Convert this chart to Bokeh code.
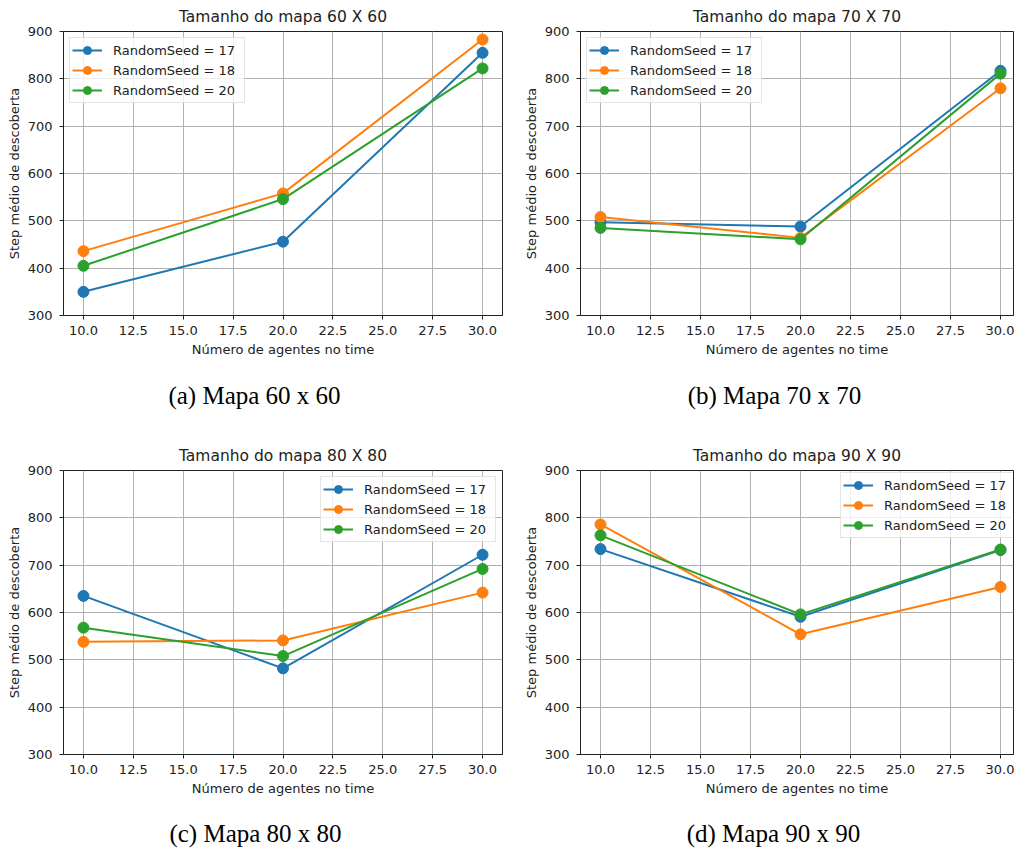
from bokeh.plotting import figure
from bokeh.layouts import column, row
from bokeh.models import FixedTicker, PrintfTickFormatter, Label
from bokeh.embed import file_html
from bokeh.resources import INLINE

# ---------------- data ----------------
agents = [10, 20, 30]
seed_labels = ["RandomSeed = 17", "RandomSeed = 18", "RandomSeed = 20"]
seed_colors = ["#1f77b4", "#ff7f0e", "#2ca02c"]

map60_seed17 = [350, 456, 855]
map60_seed18 = [436, 558, 883]
map60_seed20 = [405, 546, 822]

map70_seed17 = [497, 488, 817]
map70_seed18 = [508, 464, 780]
map70_seed20 = [485, 461, 811]

map80_seed17 = [635, 482, 722]
map80_seed18 = [538, 541, 642]
map80_seed20 = [568, 508, 692]

map90_seed17 = [734, 591, 732]
map90_seed18 = [786, 554, 654]
map90_seed20 = [763, 596, 733]

panel_titles = ["Tamanho do mapa 60 X 60", "Tamanho do mapa 70 X 70",
                "Tamanho do mapa 80 X 80", "Tamanho do mapa 90 X 90"]
panel_captions = ["(a) Mapa 60 x 60", "(b) Mapa 70 x 70",
                  "(c) Mapa 80 x 80", "(d) Mapa 90 x 90"]
x_ticks = [10.0, 12.5, 15.0, 17.5, 20.0, 22.5, 25.0, 27.5, 30.0]
y_ticks = [300, 400, 500, 600, 700, 800, 900]
x_label = "Número de agentes no time"
y_label = "Step médio de descoberta"

TXT = "#222222"
FONT = "DejaVu Sans"


def make_panel(title, series, width, height, x_end, b_left, b_right,
               b_bottom, legend_loc, legend_margin, title_offset):
    p = figure(width=width, height=height, x_range=(9, x_end), y_range=(300, 900),
               output_backend="svg", toolbar_location=None, title=title,
               min_border_left=b_left, min_border_right=b_right,
               min_border_top=30, min_border_bottom=b_bottom)
    p.background_fill_color = "white"
    p.border_fill_color = "white"
    p.outline_line_color = TXT
    p.outline_line_width = 1

    p.title.align = "center"
    p.title.text_font = FONT
    p.title.text_font_size = "15.5px"
    p.title.text_font_style = "normal"
    p.title.text_color = TXT
    p.title.standoff = 11
    p.title.offset = title_offset

    p.xaxis.ticker = FixedTicker(ticks=x_ticks)
    p.xaxis.formatter = PrintfTickFormatter(format="%.1f")
    p.yaxis.ticker = FixedTicker(ticks=y_ticks)
    for ax in (p.xaxis, p.yaxis):
        ax.major_label_text_font = FONT
        ax.major_label_text_font_size = "13px"
        ax.major_label_text_color = TXT
        ax.axis_label_text_font = FONT
        ax.axis_label_text_font_size = "13px"
        ax.axis_label_text_font_style = "normal"
        ax.axis_label_text_color = TXT
        ax.axis_line_color = TXT
        ax.major_tick_line_color = TXT
        ax.major_tick_out = 4
        ax.major_tick_in = 0
        ax.minor_tick_line_color = None
    p.xaxis.major_label_standoff = 6
    p.xaxis.axis_label_standoff = 4
    p.yaxis.major_label_standoff = 7
    p.yaxis.axis_label_standoff = 3
    p.xaxis.axis_label = x_label
    p.yaxis.axis_label = y_label

    p.grid.grid_line_color = "#b0b0b0"
    p.grid.grid_line_width = 1

    for vals, lbl, col in zip(series, seed_labels, seed_colors):
        p.line(agents, vals, line_color=col, line_width=2, legend_label=lbl)
        p.scatter(agents, vals, size=11, fill_color=col, line_color=col,
                  legend_label=lbl)

    lg = p.legend[0]
    lg.location = legend_loc
    lg.margin = legend_margin
    lg.padding = 2
    lg.spacing = 0
    lg.glyph_width = 30
    lg.glyph_height = 20
    lg.label_standoff = 11
    lg.label_width = 129
    lg.label_text_font = FONT
    lg.label_text_font_size = "13px"
    lg.label_text_color = TXT
    lg.border_line_color = "#cccccc"
    lg.border_line_width = 1
    lg.background_fill_color = "white"
    lg.background_fill_alpha = 0.8
    return p


def make_caption(text, width, height, cx, baseline):
    c = figure(width=width, height=height, x_range=(0, 1), y_range=(0, 1),
               output_backend="svg", toolbar_location=None,
               x_axis_type=None, y_axis_type=None, min_border=0)
    c.outline_line_color = None
    c.background_fill_color = "white"
    c.border_fill_color = "white"
    c.grid.visible = False
    c.add_layout(Label(x=cx, y=baseline, x_units="screen", y_units="screen",
                       text=text, text_align="center", text_baseline="alphabetic",
                       text_font="Liberation Serif", text_font_size="25px",
                       text_color="black"))
    return c


pa = make_panel(panel_titles[0], [map60_seed17, map60_seed18, map60_seed20],
                507, 367, 31, 63, 5, 52, "top_left", 6, 0)
pb = make_panel(panel_titles[1], [map70_seed17, map70_seed18, map70_seed20],
                507, 367, 30.65, 73, 1, 52, "top_left", 6, 3)
pc = make_panel(panel_titles[2], [map80_seed17, map80_seed18, map80_seed20],
                507, 367, 31, 63, 5, 52, "top_right", 6, 0)
pd = make_panel(panel_titles[3], [map90_seed17, map90_seed18, map90_seed20],
                507, 367, 30.65, 73, 1, 52, (260, 216), 0, 3)

ca = make_caption(panel_captions[0], 507, 72, 254, 44)
cb = make_caption(panel_captions[1], 507, 72, 267, 44)
cc = make_caption(panel_captions[2], 507, 44, 255, 17)
cd = make_caption(panel_captions[3], 507, 44, 266, 17)

layout = column(row(pa, pb), row(ca, cb), row(pc, pd), row(cc, cd))
open("out.html", "w").write(file_html(layout, INLINE))
